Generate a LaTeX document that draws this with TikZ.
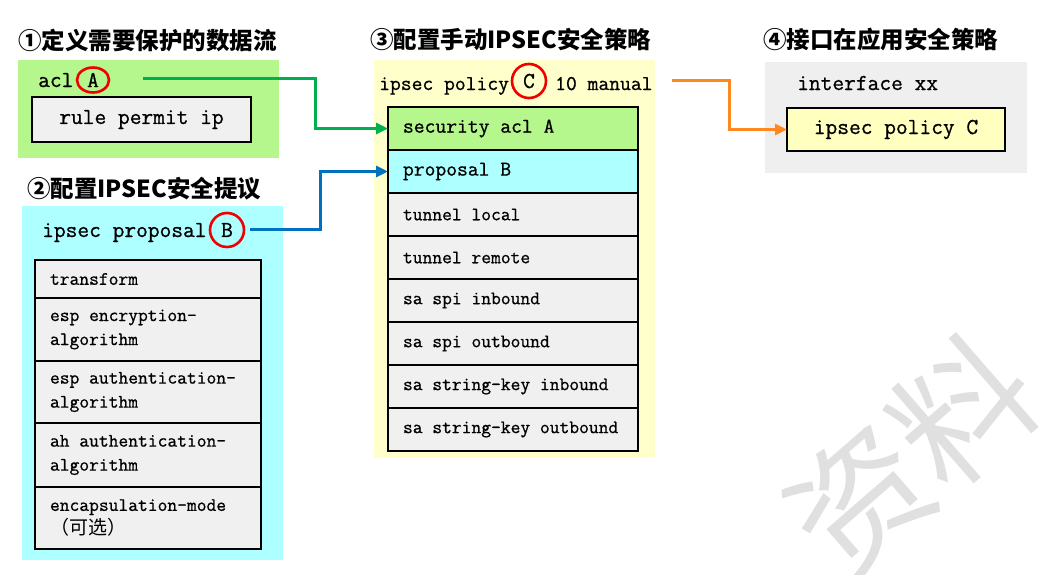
\documentclass[tikz,border=0pt]{standalone}
\usepackage{fontspec}
\usepackage{xcolor}
\usepackage{tikz}
\usetikzlibrary{positioning, arrows.meta, shapes.geometric}

\setmonofont{Latin Modern Mono}[FakeBold=0.8]
\newfontfamily\cjk{Noto Sans CJK SC}
\newcommand{\bigcode}{\fontsize{22.8}{26}\selectfont\ttfamily}
\newcommand{\midcode}{\fontsize{21}{25}\selectfont\ttfamily}
\newcommand{\smallcode}{\fontsize{19}{24}\selectfont\ttfamily}

\definecolor{aclgreen}{RGB}{181,247,140}
\definecolor{propcyan}{RGB}{174,255,255}
\definecolor{polyellow}{RGB}{255,255,204}
\definecolor{inneryellow}{RGB}{255,255,192}
\definecolor{ifgray}{RGB}{239,239,239}
\definecolor{rowgray}{RGB}{240,240,240}
\definecolor{arrgreen}{RGB}{0,176,80}
\definecolor{arrblue}{RGB}{0,112,192}
\definecolor{arrorange}{RGB}{255,137,30}
\definecolor{ringred}{RGB}{240,0,0}
\definecolor{wmgray}{RGB}{224,224,224}

\begin{document}
\begin{tikzpicture}[x=1pt, y=-1pt, node distance=0pt]

% Styles
\tikzset{
	area/.style={rectangle, draw=none, inner sep=0pt, outer sep=0pt, anchor=north west},
	heading/.style={anchor=west, inner sep=0pt, font=\cjk\bfseries\fontsize{23.5}{26}\selectfont},
	code/.style={anchor=base west, inner sep=0pt, font=\bigcode},
	ring/.style={ellipse, draw=ringred, line width=2.6pt, inner sep=0pt, font=\bigcode},
	cmdrow/.style={
		rectangle, draw=black, line width=1.8pt, fill=rowgray,
		inner xsep=15pt, inner ysep=0pt, outer sep=0pt, align=flush left, font=\smallcode
	},
	keybox/.style={rectangle, draw=black, line width=2pt, inner sep=0pt, outer sep=0pt, font=\bigcode},
	link/.style={line width=3pt, -{Triangle[length=12pt, width=11pt]}},
	watermark/.style={text=wmgray, inner sep=0pt, font=\cjk\fontsize{137}{137}\selectfont}
}

\useasboundingbox (0,0) rectangle (1045,574);

% Watermark
\node[watermark, rotate=41] (wm) at (911,455) {资料};

% Step 1: acl
\node[heading] (hdacl) at (18,40) {①定义需要保护的数据流};
\node[area, fill=aclgreen, minimum width=261pt, minimum height=98pt] (aclarea) at (18,60) {};
\node[code] (acl) at (38,87) {acl};
\node[ring, minimum width=32pt, minimum height=25pt] (ringA) at (93,80) {A};
\node[keybox, fill=rowgray, minimum width=219pt, minimum height=45pt, anchor=north west] (rule) at (32,97) {rule permit ip};

% Step 2: proposal
\node[heading] (hdprop) at (27,189) {②配置IPSEC安全提议};
\node[area, fill=propcyan, minimum width=261pt, minimum height=354pt] (proparea) at (22,206) {};
\node[code] (prop) at (42,237) {ipsec proposal};
\node[ring, minimum size=34pt] (ringB) at (227,230) {B};
\node[cmdrow, text width=196pt, minimum height=38pt, anchor=north west] (transform) at (35,260) {transform};
\node[cmdrow, text width=196pt, minimum height=63pt, below=of transform] (espenc) {esp encryption-\\algorithm};
\node[cmdrow, text width=196pt, minimum height=62pt, below=of espenc] (espauth) {esp authentication-\\algorithm};
\node[cmdrow, text width=196pt, minimum height=64pt, below=of espauth] (ahauth) {ah authentication-\\algorithm};
\node[cmdrow, text width=196pt, minimum height=62pt, below=of ahauth] (encap) {encapsulation-mode\\{\cjk （可选）}};

% Step 3: manual policy
\node[heading] (hdpol) at (370,40) {③配置手动IPSEC安全策略};
\node[area, fill=polyellow, minimum width=281pt, minimum height=398pt] (polarea) at (374,60) {};
\node[code, font=\midcode] (pol) at (379,90) {ipsec policy};
\node[ring, minimum size=34pt] (ringC) at (529,81) {C};
\node[code, font=\midcode] (polnum) at (555,90) {10 manual};
\node[cmdrow, fill=aclgreen, font=\midcode, text width=220pt, minimum height=43pt, anchor=north west] (secacl) at (388,107) {security acl A};
\node[cmdrow, fill=propcyan, font=\midcode, text width=220pt, minimum height=43pt, below=of secacl] (propB) {proposal B};
\node[cmdrow, text width=220pt, minimum height=43pt, below=of propB] (tunlocal) {tunnel local};
\node[cmdrow, text width=220pt, minimum height=43pt, below=of tunlocal] (tunremote) {tunnel remote};
\node[cmdrow, text width=220pt, minimum height=43pt, below=of tunremote] (spiin) {sa spi inbound};
\node[cmdrow, text width=220pt, minimum height=43pt, below=of spiin] (spiout) {sa spi outbound};
\node[cmdrow, text width=220pt, minimum height=43pt, below=of spiout] (keyin) {sa string-key inbound};
\node[cmdrow, text width=220pt, minimum height=43pt, below=of keyin] (keyout) {sa string-key outbound};

% Step 4: interface
\node[heading] (hdif) at (763,40) {④接口在应用安全策略};
\node[area, fill=ifgray, minimum width=262pt, minimum height=111pt] (ifarea) at (765,62) {};
\node[code] (iface) at (797,90) {interface xx};
\node[keybox, fill=inneryellow, minimum width=218pt, minimum height=43pt, anchor=north west] (ifpol) at (787,108) {ipsec policy C};

% Links
\coordinate (aclout) at (143,78);
\coordinate (propout) at (250,229);
\coordinate (polout) at (672,80);
\draw[link, arrgreen] (aclout) -- ++(172,0) |- (secacl.west);
\draw[link, arrblue] (propout) -- ++(70,0) |- (propB.west);
\draw[link, arrorange] (polout) -- ++(57,0) |- (ifpol.west);

\end{tikzpicture}
\end{document}
